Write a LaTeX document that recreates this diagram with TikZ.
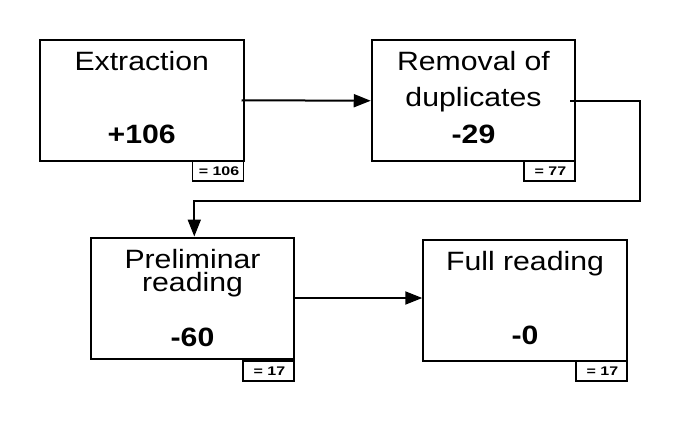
\documentclass[tikz,border=0pt]{standalone}
\usepackage{fontspec}
\setmainfont{Liberation Sans}
\newfontfamily\bigf{Liberation Sans}[FakeStretch=1.14]
\newfontfamily\smallf{Liberation Sans}[FakeStretch=1.28]
\usetikzlibrary{arrows.meta}
\begin{document}
\begin{tikzpicture}[x=1pt,y=-1pt,
  box/.style={draw,line width=2pt,inner sep=0pt,minimum width=203.5pt,minimum height=121pt},
  tally/.style={draw,line width=1.8pt,inner sep=0pt,minimum width=51pt,minimum height=19.8pt,
    font=\smallf\bfseries\fontsize{12.5}{14}\selectfont},
  title/.style={anchor=base,inner sep=0pt,font=\bigf\fontsize{26.5}{30}\selectfont},
  num/.style={anchor=base,inner sep=0pt,font=\bigf\bfseries\fontsize{26.5}{30}\selectfont},
  conn/.style={line width=2pt,-{Triangle[length=17pt,width=13pt]}}]
\useasboundingbox (0,0) rectangle (680,421);
% main boxes
\node[box] (ext)  at (141.75,100.25) {};
\node[box] (rem)  at (473.5,100.75) {};
\node[box] (prel) at (192.5,298) {};
\node[box] (full) at (525,300.75) {};
% tallies
\node[tally] (t1) at (218,171) {\hspace{2pt}= 106};
\node[tally] (t2) at (549.5,171.25) {\hspace{2pt}= 77};
\node[tally] (t3) at (268.5,371.25) {\hspace{2pt}= 17};
\node[tally] (t4) at (601.5,371.1) {\hspace{2pt}= 17};
% texts
\node[title] (extT)  at (141.75,70) {Extraction};
\node[num]   (extN)  at (141.75,143.3) {+106};
\node[title] (remT1) at (473.5,70) {Removal of};
\node[title] (remT2) at (473.5,106) {duplicates};
\node[num]   (remN)  at (473.5,143.3) {-29};
\node[title] (prelT1) at (192.5,268.3) {Preliminar};
\node[title] (prelT2) at (192.5,291) {reading};
\node[num]   (prelN)  at (192.5,346.7) {-60};
\node[title] (fullT) at (525,270) {Full reading};
\node[num]   (fullN) at (525,344.3) {-0};
% connectors
\coordinate (start) at ([xshift=-3pt]ext.east);
\draw[conn] (start) -- (rem.west);
\coordinate (bend) at (640,200.7);
\coordinate (drop) at ([xshift=1.8pt]prel.north);
\draw[conn] ([xshift=-6pt]rem.east) -- (rem.east -| bend) -- (bend) -- (bend -| drop) -- (drop);
\draw[conn] (prel.east) -- (prel.east -| full.west);
\end{tikzpicture}
\end{document}
